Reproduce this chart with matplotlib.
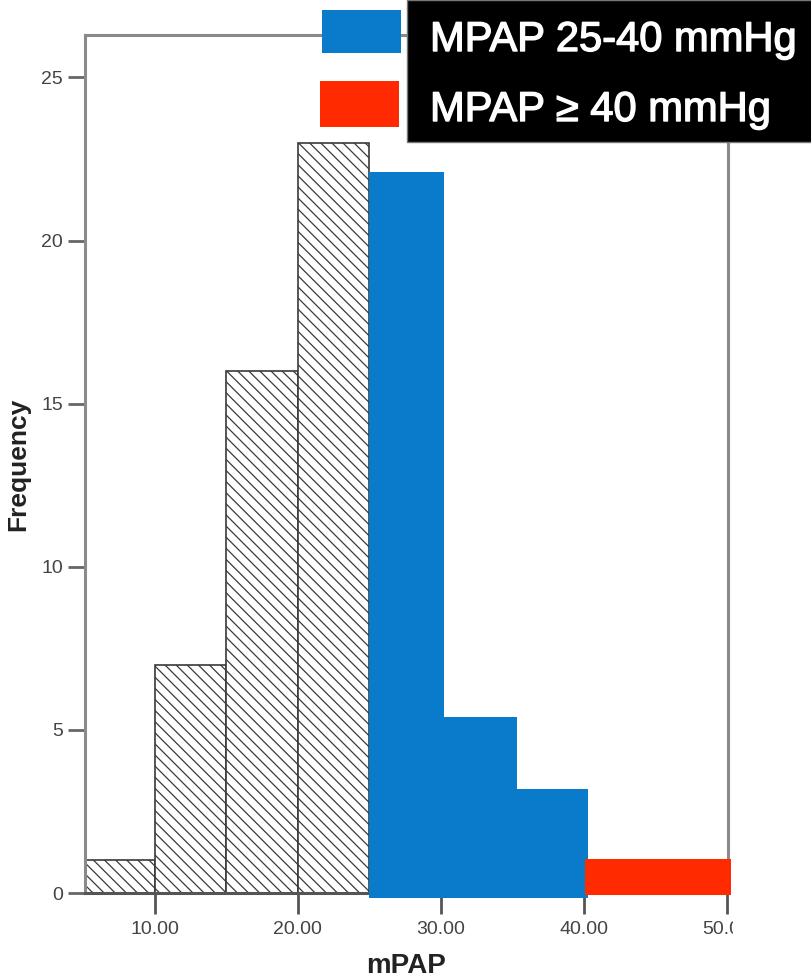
import matplotlib
matplotlib.use('Agg')
from matplotlib import pyplot as plt
from matplotlib.patches import Rectangle
from matplotlib.transforms import Bbox, TransformedBbox
import matplotlib.patheffects as pe

# Histogram data
gray_edges = [5.1, 10, 15, 20, 25]
gray_counts = [1, 7, 16, 23]
blue_edges = [25, 30.2, 35.3, 40.3]
blue_counts = [22.1, 5.4, 3.2]
red_edges = [40.1, 50.3]
red_counts = [1.05]

x_ticks = [10, 20, 30, 40, 50]
x_ticklabels = ['10.00', '20.00', '30.00', '40.00', '50.00']
y_ticks = [0, 5, 10, 15, 20, 25]
legend_labels = ['MPAP 25-40 mmHg', 'MPAP \u2265 40 mmHg']

blue = '#0a7bcb'
red = '#ff2a00'
spine_gray = '#8a8a8a'

plt.rcParams['font.family'] = ['Liberation Sans', 'DejaVu Sans']
plt.rcParams['hatch.linewidth'] = 0.9

W, H = 812, 980
fig = plt.figure(figsize=(W / 100, H / 100), dpi=100)
axe = fig.add_axes([85 / W, 1 - 893 / H, (728 - 85) / W, (893 - 35) / H])

# gray hatched bars
for i, c in enumerate(gray_counts):
    axe.bar(gray_edges[i], c, width=gray_edges[i + 1] - gray_edges[i],
            align='edge', facecolor='white', edgecolor='#3a3a3a',
            hatch='\\\\\\', linewidth=1.2, zorder=2)

# blue overlay bars
for i, c in enumerate(blue_counts):
    axe.bar(blue_edges[i], c + 0.15, width=blue_edges[i + 1] - blue_edges[i],
            bottom=-0.15, align='edge', color=blue, linewidth=0, zorder=3,
            clip_on=False)

# red overlay bar
axe.bar(red_edges[0], red_counts[0] + 0.06, width=red_edges[1] - red_edges[0],
        bottom=-0.06, align='edge', color=red, linewidth=0, zorder=4,
        clip_on=False)

axe.set_xlim(5.1, 50.1)
axe.set_ylim(0, 26.3)
axe.set_xticks(x_ticks)
axe.set_xticklabels(x_ticklabels)
axe.set_yticks(y_ticks)

for sp in axe.spines.values():
    sp.set_color(spine_gray)
    sp.set_linewidth(2.2)
axe.spines['bottom'].set_color('#555555')

axe.tick_params(axis='y', direction='out', length=12, width=2,
                color='#666666', labelsize=14, labelcolor='#444444', pad=4)
axe.tick_params(axis='x', direction='out', length=15, width=2,
                color='#555555', labelsize=14, labelcolor='#444444', pad=5)

axe.set_xlabel('mPAP', fontsize=20, fontweight='bold', labelpad=11,
               color='#222222')
axe.set_ylabel('Frequency', fontsize=19, fontweight='bold', labelpad=8,
               color='#222222')

# last tick label is cut off at the right edge in the original
fig.canvas.draw()
clip = TransformedBbox(Bbox([[0, 0], [733 / W, 1]]), fig.transFigure)
for lbl in axe.get_xticklabels():
    lbl.set_clip_box(clip)
    lbl.set_clip_on(True)

# legend drawn as a black box with colour swatches
fig.patches.append(Rectangle((407 / W, 1 - 142 / H), (W - 407) / W, 142 / H,
                             transform=fig.transFigure, facecolor='black',
                             edgecolor='#777777', linewidth=1, zorder=10))
fig.patches.append(Rectangle((322 / W, 1 - 53 / H), 79 / W, 43 / H,
                             transform=fig.transFigure, facecolor=blue,
                             edgecolor='none', zorder=10))
fig.patches.append(Rectangle((320 / W, 1 - 127 / H), 79 / W, 46 / H,
                             transform=fig.transFigure, facecolor=red,
                             edgecolor='none', zorder=10))
thick = [pe.withStroke(linewidth=1.0, foreground='white')]
fig.text(430 / W, 1 - 40 / H, legend_labels[0], color='white', fontsize=30,
         va='center', ha='left', zorder=11, path_effects=thick)
fig.text(430 / W, 1 - 110 / H, legend_labels[1], color='white', fontsize=30,
         va='center', ha='left', zorder=11, path_effects=thick)

fig.savefig('out.png', dpi=100)
